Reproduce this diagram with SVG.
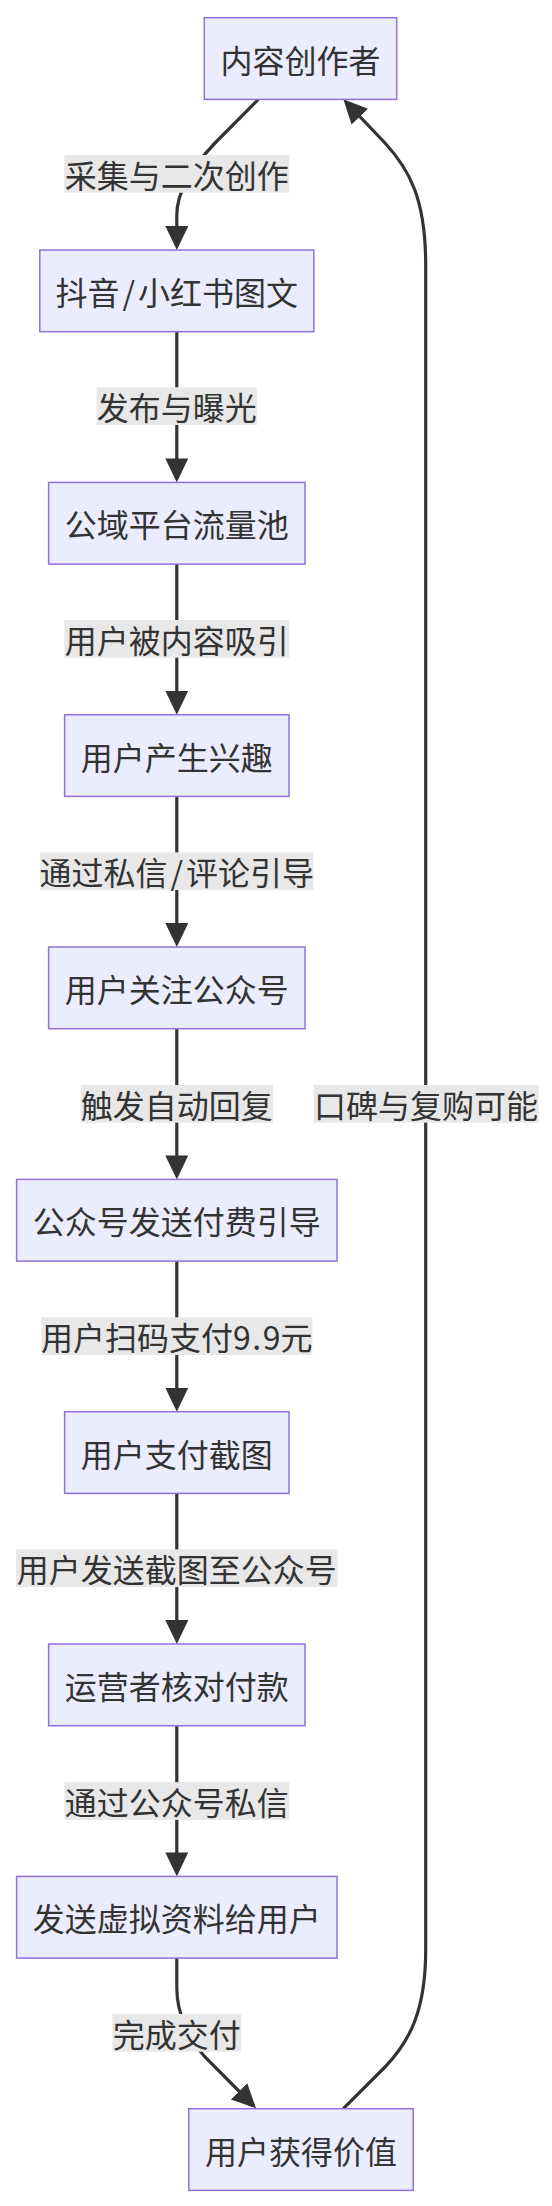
<svg xmlns="http://www.w3.org/2000/svg" width="552" height="2206" viewBox="0 0 552 2206">
<style>
.node rect{fill:#ECECFF;stroke:#9370DB;stroke-width:1.5;}
.node text,.elabel text{font-family:"Noto Sans CJK SC","Noto Sans",sans-serif;font-size:32px;fill:#333333;text-anchor:middle;dominant-baseline:central;}
.elabel rect{fill:#e8e8e8;stroke:none;}
.edges path{fill:none;stroke:#333333;stroke-width:3.2;marker-end:url(#arrow);}
</style>
<defs>
<marker id="arrow" viewBox="0 0 24 23" refX="20" refY="11.5" markerWidth="24" markerHeight="23" markerUnits="userSpaceOnUse" orient="auto">
<path d="M0,0 L24,11.5 L0,23 z" fill="#333333"/>
</marker>
</defs>
<g id="connectors" class="edges">
<path d="M258.3,99.4 L215,143 Q176.8,183 176.8,215 L176.8,246"/>
<path d="M176.8,331.7 L176.8,478.4"/>
<path d="M176.8,564.1 L176.8,710.7"/>
<path d="M176.8,796.4 L176.8,943"/>
<path d="M176.8,1028.7 L176.8,1175.4"/>
<path d="M176.8,1261.1 L176.8,1407.7"/>
<path d="M176.8,1493.4 L176.8,1640"/>
<path d="M176.8,1725.7 L176.8,1872.4"/>
<path d="M176.8,1958.1 L176.8,1988 C176.8,2015 190,2040 205,2057 L253.2,2105.5"/>
<path d="M343.3,2108.7 L385,2067 C410,2041 425.7,2010 425.7,1950 L425.7,265 C425.7,200 410,170 385,143 L346.1,102.2"/>
</g>
<g id="edge-labels">
<g class="elabel"><rect x="64.3" y="155" width="225" height="37.7"/><text x="176.8" y="173.9">采集与二次创作</text></g>
<g class="elabel"><rect x="96.6" y="387.3" width="160.6" height="37.7"/><text x="176.8" y="406.2">发布与曝光</text></g>
<g class="elabel"><rect x="64.3" y="620" width="225" height="37.7"/><text x="176.8" y="638.9">用户被内容吸引</text></g>
<g class="elabel"><rect x="40.2" y="852.3" width="273.2" height="37.7"/><text x="176.8" y="871.2">通过私信<tspan dx="3">/</tspan><tspan dx="3">评论引导</tspan></text></g>
<g class="elabel"><rect x="80.6" y="1085" width="192.5" height="37.7"/><text x="176.8" y="1103.9">触发自动回复</text></g>
<g class="elabel"><rect x="313.6" y="1085" width="225" height="37.7"/><text x="426.1" y="1103.9">口碑与复购可能</text></g>
<g class="elabel"><rect x="41.3" y="1317.3" width="271.1" height="37.7"/><text x="176.8" y="1336.2">用户扫码支付9<tspan dx="1.5">.</tspan><tspan dx="1.5">9元</tspan></text></g>
<g class="elabel"><rect x="16.1" y="1549.4" width="321.4" height="37.7"/><text x="176.8" y="1568.3">用户发送截图至公众号</text></g>
<g class="elabel"><rect x="64.3" y="1782.2" width="225" height="37.7"/><text x="176.8" y="1801.1">通过公众号私信</text></g>
<g class="elabel"><rect x="112.4" y="2014" width="128.9" height="37.7"/><text x="176.8" y="2032.9">完成交付</text></g>
</g>
<g id="n1" class="node"><rect x="204.3" y="17.7" width="192.4" height="81.7"/><text x="300.5" y="58.6">内容创作者</text></g>
<g id="n2" class="node"><rect x="39.8" y="250" width="274" height="81.7"/><text x="176.8" y="290.9">抖音<tspan dx="3">/</tspan><tspan dx="3">小红书图文</tspan></text></g>
<g id="n3" class="node"><rect x="48.6" y="482.4" width="256.4" height="81.7"/><text x="176.8" y="523.3">公域平台流量池</text></g>
<g id="n4" class="node"><rect x="64.6" y="714.7" width="224.4" height="81.7"/><text x="176.8" y="755.6">用户产生兴趣</text></g>
<g id="n5" class="node"><rect x="48.6" y="947" width="256.4" height="81.7"/><text x="176.8" y="987.9">用户关注公众号</text></g>
<g id="n6" class="node"><rect x="16.6" y="1179.4" width="320.4" height="81.7"/><text x="176.8" y="1220.3">公众号发送付费引导</text></g>
<g id="n7" class="node"><rect x="64.6" y="1411.7" width="224.4" height="81.7"/><text x="176.8" y="1452.6">用户支付截图</text></g>
<g id="n8" class="node"><rect x="48.6" y="1644" width="256.4" height="81.7"/><text x="176.8" y="1684.9">运营者核对付款</text></g>
<g id="n9" class="node"><rect x="16.6" y="1876.4" width="320.4" height="81.7"/><text x="176.8" y="1917.3">发送虚拟资料给用户</text></g>
<g id="n10" class="node"><rect x="188.8" y="2108.7" width="224.4" height="81.7"/><text x="301" y="2149.6">用户获得价值</text></g>
</svg>
